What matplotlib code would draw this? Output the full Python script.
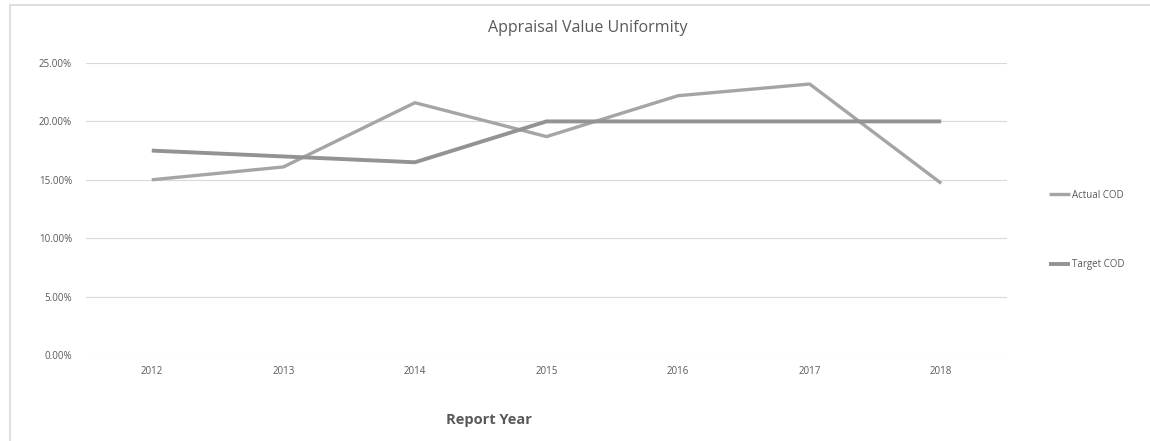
import matplotlib.pyplot as plt
from matplotlib.patches import Rectangle
from matplotlib.ticker import PercentFormatter

# datos
years = ['2012', '2013', '2014', '2015', '2016', '2017', '2018']
actual_cod = [15.0, 16.1, 21.6, 18.7, 22.2, 23.2, 14.7]
target_cod = [17.5, 17.0, 16.5, 20.0, 20.0, 20.0, 20.0]
y_ticks = [0, 5, 10, 15, 20, 25]

plt.rcParams['font.family'] = ['Open Sans', 'DejaVu Sans']

fig = plt.figure(figsize=(11.5, 4.41), dpi=100)
ax = fig.add_axes([86 / 1150, 1 - 355 / 441, (1007 - 86) / 1150, (355 - 63) / 441])

x = list(range(len(years)))
ax.plot(x, actual_cod, color='#a5a5a5', lw=2.4, label='Actual COD', solid_capstyle='butt')
ax.plot(x, target_cod, color='#939393', lw=2.8, label='Target COD', solid_capstyle='butt')

ax.set_xlim(-0.5, len(years) - 0.5)
ax.set_ylim(0, 25)
ax.set_yticks(y_ticks)
ax.yaxis.set_major_formatter(PercentFormatter(decimals=2))
ax.set_xticks(x)
ax.set_xticklabels(years)
ax.tick_params(axis='both', length=0, labelsize=7, labelcolor='#595959')
ax.tick_params(axis='y', pad=10)
ax.tick_params(axis='x', pad=8)
ax.grid(axis='y', color='#d9d9d9', lw=0.8)
ax.set_axisbelow(True)
for s in ax.spines.values():
    s.set_visible(False)

fig.text(588 / 1150, 1 - 28 / 441, 'Appraisal Value Uniformity', ha='center', va='center',
         fontsize=11.5, color='#595959')
fig.text(489 / 1150, 1 - 420 / 441, 'Report Year', ha='center', va='center',
         fontsize=10.5, fontweight='bold', color='#595959')

# leyenda
leg = fig.legend(loc='center left', bbox_to_anchor=(1040 / 1150, 1 - 230 / 441), frameon=False,
                 fontsize=7, labelcolor='#595959', handlelength=2.2, handletextpad=0.2,
                 labelspacing=6.0)

fig.patches.append(Rectangle((10 / 1150, -0.2), 1.5, 1.2 - 5 / 441, transform=fig.transFigure,
                             fill=False, edgecolor='#d9d9d9', lw=1.2))

fig.savefig('out.png', dpi=100)
